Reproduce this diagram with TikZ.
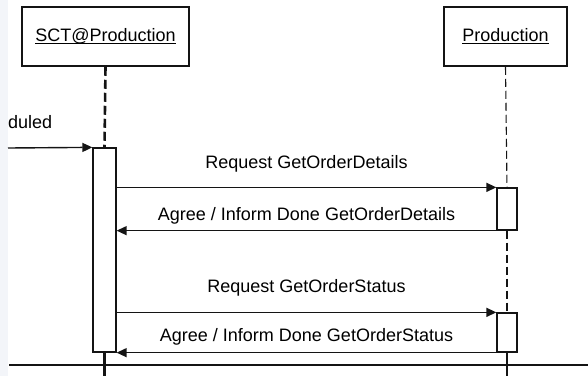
\documentclass[tikz,border=0pt]{standalone}
\usepackage{fontspec}
\setmainfont{Liberation Sans}
\usetikzlibrary{arrows.meta,positioning}
\definecolor{StripGray}{RGB}{243,245,249}
\definecolor{LineGray}{RGB}{20,20,20}
\newcommand{\ultext}[1]{\setbox0\hbox{#1}\rlap{\rule[-2.2pt]{\wd0}{1pt}}\box0}

\begin{document}
\begin{tikzpicture}[x=1pt,y=-1pt,
    lifebox/.style={draw=LineGray, line width=1.5pt, inner sep=0pt, minimum width=#1, minimum height=59pt, font=\fontsize{18}{20}\selectfont},
    actbox/.style={draw=LineGray, line width=1.3pt, fill=white, inner sep=0pt, minimum width=#1},
    msg/.style={draw=LineGray, line width=1.4pt, -{Triangle[length=10pt,width=9pt]}},
    msglabel/.style={anchor=base, font=\fontsize{18}{20}\selectfont, inner sep=0pt}]
      \useasboundingbox (0,0) rectangle (588,376);
      \fill[StripGray] (0,0) rectangle (8,376);
      % participants
      \node[lifebox=167pt] (sct) at (105.5,36.5) {\ultext{SCT@Production}};
      \node[lifebox=123pt] (prod) at (505.5,36.5) {\ultext{Production}};
      % activations
      \node[actbox=23pt, minimum height=204pt] (act1) at (104.5,250) {};
      \node[actbox=20pt, minimum height=42pt] (act2) at (507,209) {};
      \node[actbox=20pt, minimum height=39pt] (act3) at (507,332.5) {};
      \coordinate (sctend) at (104.5,376);
      \coordinate (prodend) at (507,376);
      \coordinate (instart) at (8,148);
      \coordinate (rulel) at (9,365);
      \coordinate (ruler) at (588,365);
      % lifelines
      \draw[LineGray, line width=2.6pt, dash pattern=on 9pt off 4pt] (sct.south) -- (act1.north);
      \draw[LineGray, line width=2.2pt] (act1.south) -- (sctend);
      \draw[LineGray, line width=1.1pt, dash pattern=on 8pt off 4pt] (prod.south) -- (act2.north);
      \draw[LineGray, line width=1.1pt, dash pattern=on 8pt off 4pt] (act2.south) -- (act3.north);
      \draw[LineGray, line width=1.1pt] (act3.south) -- (prodend);
      \draw[LineGray, line width=1.6pt] (rulel) -- (ruler);
      % incoming message
      \node[msglabel, anchor=base west] (sched) at (8,128) {duled};
      \draw[msg] (instart) -- (act1.north west);
      % messages
      \draw[msg] (act1.east |- act2.north west) -- node[msglabel, yshift=19pt] {Request GetOrderDetails} (act2.north west);
      \draw[msg] (act2.south west) -- node[msglabel, yshift=10pt] {Agree / Inform Done GetOrderDetails} (act1.east |- act2.south west);
      \draw[msg] (act1.east |- act3.north west) -- node[msglabel, yshift=20pt] {Request GetOrderStatus} (act3.north west);
      \draw[msg] (act3.south west) -- node[msglabel, yshift=11pt] {Agree / Inform Done GetOrderStatus} (act1.south east);
\end{tikzpicture}
\end{document}
